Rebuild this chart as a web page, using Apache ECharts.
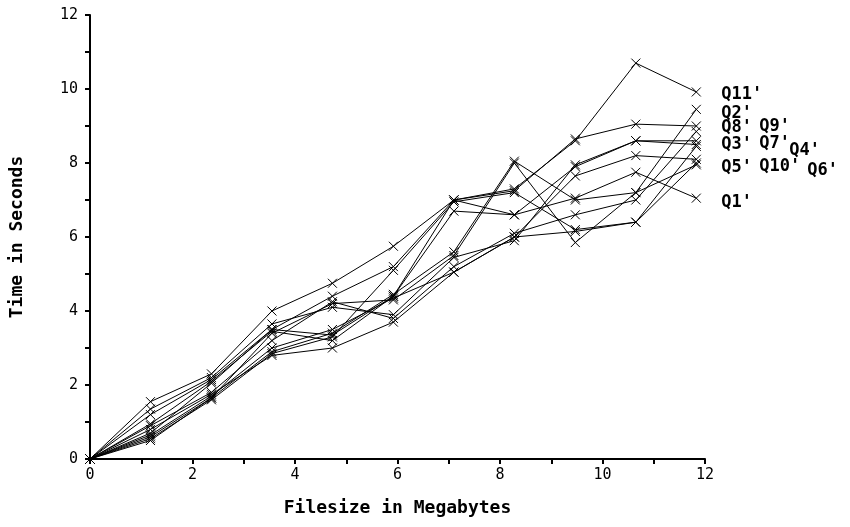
<!DOCTYPE html>
<html>
<head>
<meta charset="utf-8">
<script src="https://cdn.jsdelivr.net/npm/echarts@6/dist/echarts.min.js"></script>
<style>
  html, body { margin: 0; padding: 0; background: #fff; }
  #chart { width: 850px; height: 527px; }
</style>
</head>
<body>
<div id="chart"></div>
<script>
    // filesize steps (MB)
    var sizes = [0, 1.18, 2.37, 3.55, 4.73, 5.92, 7.1, 8.28, 9.47, 10.65, 11.83];

    var q1  = [0, 0.95, 2.1, 3.45, 3.2, 4.4, 7.0, 6.6, 7.05, 7.75, 7.05];
    var q2  = [0, 0.6, 1.65, 2.9, 3.4, 4.45, 5.6, 8.05, 7.0, 7.2, 9.45];
    var q3  = [0, 1.35, 2.2, 3.65, 4.1, 3.9, 5.45, 5.9, 7.95, 8.6, 8.6];
    var q4  = [0, 0.55, 1.6, 2.85, 3.3, 5.1, 6.95, 7.2, 6.2, 6.4, 8.45];
    var q5  = [0, 0.65, 1.7, 3.0, 3.5, 4.35, 5.05, 6.0, 7.65, 8.2, 8.1];
    var q6  = [0, 0.5, 1.65, 3.4, 4.2, 4.3, 5.5, 8.0, 5.85, 7.2, 7.95];
    var q7  = [0, 0.7, 2.05, 3.5, 3.35, 4.4, 6.7, 6.6, 7.9, 8.6, 8.5];
    var q8  = [0, 1.2, 2.15, 3.5, 4.4, 5.2, 7.0, 7.25, 8.65, 9.05, 9.0];
    var q9  = [0, 0.9, 1.8, 3.2, 4.25, 3.8, 5.2, 6.1, 6.6, 7.0, 8.85];
    var q10 = [0, 0.8, 1.75, 2.8, 3.0, 3.7, 5.05, 6.0, 6.15, 6.4, 8.0];
    var q11 = [0, 1.55, 2.3, 4.0, 4.75, 5.75, 7.0, 7.3, 8.6, 10.7, 9.92];

    var names = ["Q1'", "Q2'", "Q3'", "Q4'", "Q5'", "Q6'", "Q7'", "Q8'", "Q9'", "Q10'", "Q11'"];
    var values = [q1, q2, q3, q4, q5, q6, q7, q8, q9, q10, q11];
    // where each end label sits relative to the last point
    var labelOffsets = [[25, 4], [25, 4], [25, 4], [93, 4], [25, 8], [111, 6], [63, -1], [25, 2], [63, -5], [63, 4], [25, 3]];

    var mono = "DejaVu Sans Mono";
    var crossMark = "path://M0,0L10,10M10,0L0,10";

    var series = [];
    names.forEach(function(name, i) {
        series.push({
            name: name,
            type: 'line',
            data: sizes.map(function(x, j) { return [x, values[i][j]]; }),
            symbol: crossMark,
            symbolSize: 9,
            lineStyle: { color: '#000', width: 1 },
            itemStyle: { color: '#000', borderColor: '#000', borderWidth: 1 },
            emphasis: { disabled: true },
            animation: false,
            endLabel: {
                show: true,
                formatter: name,
                distance: 0,
                offset: labelOffsets[i],
                color: '#000',
                fontFamily: mono,
                fontWeight: 'bold',
                fontSize: 17,
                align: 'left',
                verticalAlign: 'middle'
            }
        });
    });

    var chart = echarts.init(document.getElementById('chart'));
    chart.setOption({
        backgroundColor: '#fff',
        animation: false,
        grid: { left: 90, right: 145, top: 15, bottom: 68 },
        xAxis: {
            type: 'value',
            min: 0, max: 12, interval: 2,
            name: 'Filesize in Megabytes',
            nameLocation: 'middle',
            nameGap: 40,
            nameTextStyle: { color: '#000', fontFamily: mono, fontWeight: 'bold', fontSize: 18 },
            axisLine: { show: true, lineStyle: { color: '#000', width: 2 } },
            axisTick: { show: true, length: 5, lineStyle: { color: '#000', width: 2 } },
            minorTick: { show: true, splitNumber: 2, length: 5, lineStyle: { color: '#000', width: 2 } },
            axisLabel: { color: '#000', fontFamily: mono, fontSize: 15, margin: 9 },
            splitLine: { show: false }
        },
        yAxis: {
            type: 'value',
            min: 0, max: 12, interval: 2,
            name: 'Time in Seconds',
            nameLocation: 'middle',
            nameGap: 64,
            nameTextStyle: { color: '#000', fontFamily: mono, fontWeight: 'bold', fontSize: 18 },
            axisLine: { show: true, lineStyle: { color: '#000', width: 2 } },
            axisTick: { show: true, length: 5, lineStyle: { color: '#000', width: 2 } },
            minorTick: { show: true, splitNumber: 2, length: 5, lineStyle: { color: '#000', width: 2 } },
            axisLabel: { color: '#000', fontFamily: mono, fontSize: 15, margin: 12 },
            splitLine: { show: false }
        },
        series: series
    });
</script>
</body>
</html>
